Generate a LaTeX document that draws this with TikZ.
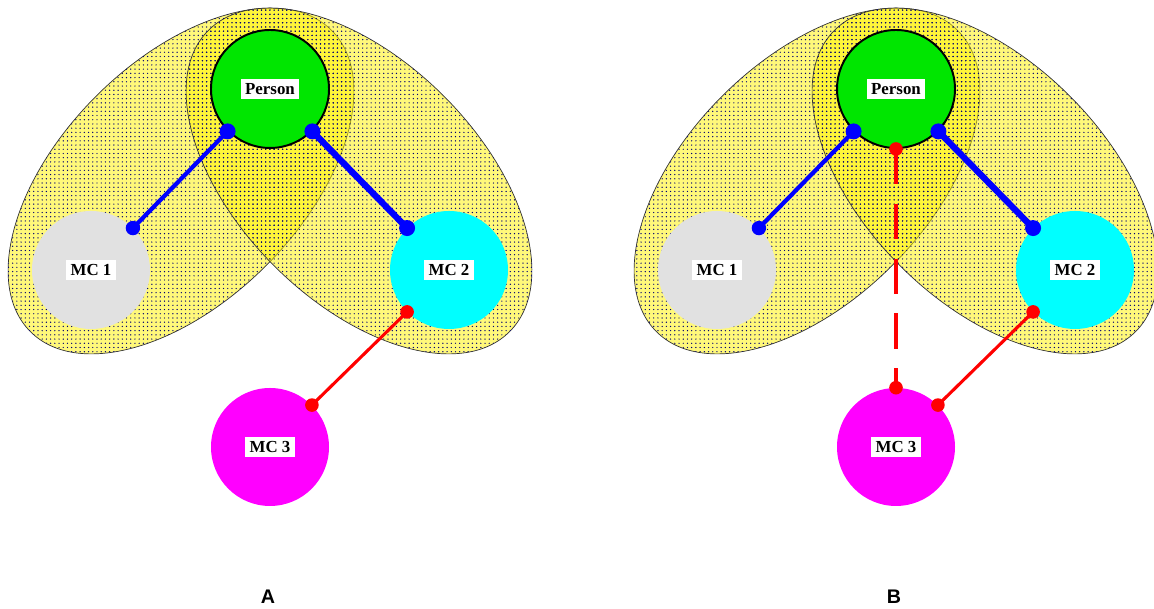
\documentclass[tikz,border=0pt]{standalone}
\usepackage{fontspec}
\setmainfont{Liberation Serif}
\newfontfamily\panelfont{Liberation Sans}
\usetikzlibrary{patterns}
\definecolor{mcgreen}{RGB}{0,230,0}
\definecolor{mccyan}{RGB}{0,255,255}
\definecolor{mcmagenta}{RGB}{255,0,255}
\definecolor{mcgray}{RGB}{225,225,225}
\definecolor{hull}{RGB}{255,242,0}

\begin{document}
\begin{tikzpicture}[
    mc/.style={circle,minimum size=2.95cm,inner sep=0pt,
      font=\bfseries\fontsize{12}{14}\selectfont},
    zone/.style={draw=black!80,line width=0.5pt,fill=hull,fill opacity=0.52},
    grain/.style={pattern=dots,pattern color=black!55!blue},
    joint/.style={line width=#1,line cap=round},
  ]
  \useasboundingbox (0,0) rectangle (28.85,15.225);
  \foreach \p/\dx in {A/0,B/15.65}{
    \begin{scope}[xshift=\dx cm]
      % the two overlapping hulls
      \path[zone,rotate around={45:(4.525,10.7)}] (4.525,10.7) ellipse [x radius=5.325,y radius=3];
      \path[zone,rotate around={-45:(8.975,10.7)}] (8.975,10.7) ellipse [x radius=5.325,y radius=3];
      \path[grain,rotate around={45:(4.525,10.7)}] (4.525,10.7) ellipse [x radius=5.325,y radius=3];
      \path[grain,rotate around={-45:(8.975,10.7)}] (8.975,10.7) ellipse [x radius=5.325,y radius=3];
      % circles
      \node[mc,fill=mcgreen,draw=black,line width=1.4pt] (person\p) at (6.75,13.0) {\colorbox{white}{Person}};
      \node[mc,fill=mcgray] (mc1\p) at (2.275,8.475) {\colorbox{white}{MC 1}};
      \node[mc,fill=mccyan] (mc2\p) at (11.225,8.475) {\colorbox{white}{MC 2}};
      \node[mc,fill=mcmagenta] (mc3\p) at (6.75,4.05) {\colorbox{white}{MC 3}};
      % links
      \draw[blue,joint=3pt] (person\p.225) -- (mc1\p.45);
      \draw[blue,joint=4.5pt] (person\p.-45) -- (mc2\p.135);
      \draw[red,joint=2.2pt] (mc2\p.225) -- (mc3\p.45);
      \fill[blue] (person\p.225) circle (0.2) (person\p.-45) circle (0.2)
        (mc1\p.45) circle (0.18) (mc2\p.135) circle (0.2);
      \fill[red] (mc2\p.225) circle (0.17) (mc3\p.45) circle (0.17);
      \node[font=\panelfont\bfseries\fontsize{14}{16}\selectfont] (lbl\p) at (6.7,0.3) {\p};
    \end{scope}
  }
  % B: direct link
  \draw[red,line width=2.2pt,dash pattern=on 25pt off 14pt] (personB.south) -- (mc3B.north);
  \fill[red] (personB.south) circle (0.17) (mc3B.north) circle (0.17);
\end{tikzpicture}
\end{document}
